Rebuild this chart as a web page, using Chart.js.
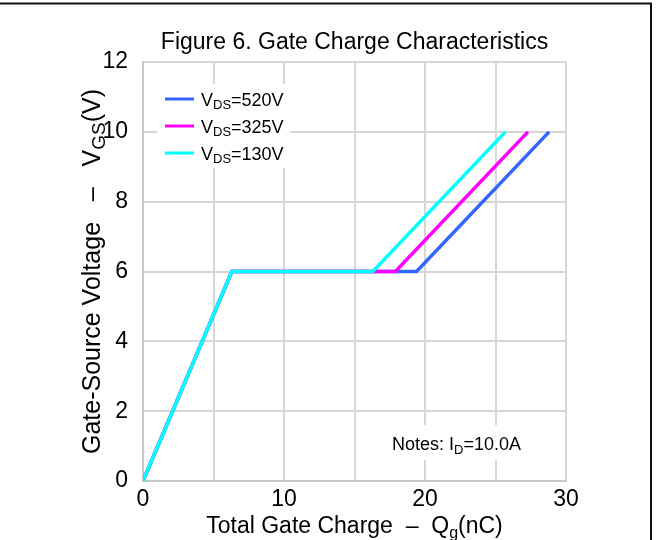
<!DOCTYPE html>
<html>
<head>
<meta charset="utf-8">
<script src="https://cdn.jsdelivr.net/npm/chart.js@4.4.1/dist/chart.umd.min.js"></script>
<style>
  body { margin: 0; background: #fff; }
  #wrap { width: 656px; height: 540px; }
</style>
</head>
<body>
<div id="wrap"><canvas id="chartGate" width="656" height="540"></canvas></div>
<script>
// Gate charge curves (Qg in nC, Vgs in V)
const vgs = [0, 6, 6, 10];
const qg520 = [0, 6.3, 19.4, 28.8];
const qg325 = [0, 6.3, 17.9, 27.3];
const qg130 = [0, 6.3, 16.3, 25.7];
const serieNames = ["520V", "325V", "130V"];
const serieColors = ["#3366ff", "#ff00ff", "#00ffff"];
const xTicks = [0, 10, 20, 30];

const FONT = "'Liberation Sans', Arial, sans-serif";

function pontos(qg) {
  return qg.map((q, i) => ({ x: q, y: vgs[i] }));
}

// texto com subscrito: partes = [[texto, sub?], ...]
function textoSub(ctx, partes, x, y, size, align, escala) {
  const subSize = Math.round(size * (escala || 0.7));
  let total = 0;
  partes.forEach(([t, sub]) => {
    ctx.font = (sub ? subSize : size) + "px " + FONT;
    total += ctx.measureText(t).width;
  });
  let cx = align === "center" ? x - total / 2 : x;
  ctx.textAlign = "left";
  ctx.textBaseline = "alphabetic";
  partes.forEach(([t, sub]) => {
    ctx.font = (sub ? subSize : size) + "px " + FONT;
    ctx.fillText(t, cx, sub ? y + size * 0.2 : y);
    cx += ctx.measureText(t).width;
  });
}

const extras = {
  id: "extras",
  afterDraw(chart) {
    const ctx = chart.ctx;
    const area = chart.chartArea;
    ctx.save();
    ctx.fillStyle = "#000";

    // moldura da figura
    ctx.strokeStyle = "#111";
    ctx.lineWidth = 2;
    ctx.beginPath();
    ctx.moveTo(0, 3.5);
    ctx.lineTo(652, 3.5);
    ctx.moveTo(651, 3.5);
    ctx.lineTo(651, 540);
    ctx.stroke();

    // titulo
    textoSub(ctx, [["Figure 6. Gate Charge Characteristics"]], (area.left + area.right) / 2, 49, 23, "center");

    // titulo eixo x
    textoSub(ctx, [["Total Gate Charge  \u2013  Q"], ["g", true], ["(nC)"]], (area.left + area.right) / 2, 533, 23, "center");

    // titulo eixo y
    ctx.save();
    ctx.translate(100, (area.top + area.bottom) / 2);
    ctx.rotate(-Math.PI / 2);
    textoSub(ctx, [["Gate-Source Voltage   \u2013   V"], ["GS", true], ["(V)"]], 0, 0, 25, "center", 0.75);
    ctx.restore();

    // legenda
    ctx.fillStyle = "#fff";
    ctx.fillRect(157, 84, 133, 84);
    serieNames.forEach((nome, i) => {
      const y = 99 + i * 27;
      ctx.strokeStyle = serieColors[i];
      ctx.lineWidth = 3;
      ctx.beginPath();
      ctx.moveTo(165, y);
      ctx.lineTo(194, y);
      ctx.stroke();
      ctx.fillStyle = "#000";
      textoSub(ctx, [["V"], ["DS", true], ["=" + nome]], 201, y + 6.5, 18, "left");
    });

    // notas
    ctx.fillStyle = "#fff";
    ctx.fillRect(382, 425, 152, 35);
    ctx.fillStyle = "#000";
    textoSub(ctx, [["Notes: I"], ["D", true], ["=10.0A"]], 392, 450, 18, "left");

    ctx.restore();
  },
};

const gate = document.getElementById("chartGate");

new Chart(gate, {
  type: "line",
  data: {
    datasets: [
      { label: "VDS=" + serieNames[0], data: pontos(qg520), borderColor: serieColors[0], order: 3 },
      { label: "VDS=" + serieNames[1], data: pontos(qg325), borderColor: serieColors[1], order: 2 },
      { label: "VDS=" + serieNames[2], data: pontos(qg130), borderColor: serieColors[2], order: 1 },
    ].map((d) => Object.assign(d, {
      borderWidth: 3.5,
      pointRadius: 0,
      tension: 0,
      fill: false,
      borderJoinStyle: "miter",
    })),
  },
  options: {
    responsive: false,
    animation: false,
    layout: { padding: { left: 0, top: 62, right: 90, bottom: 0 } },
    plugins: {
      legend: { display: false },
      title: { display: false },
      tooltip: { enabled: false },
    },
    scales: {
      x: {
        type: "linear",
        min: 0,
        max: 30,
        afterFit: (s) => { s.height = 59; },
        grid: { color: "#d6d6d6", lineWidth: 2, drawTicks: false },
        border: { color: "#c8c8c8", width: 2 },
        ticks: {
          stepSize: 5,
          padding: 5,
          color: "#000",
          font: { family: FONT, size: 23 },
          callback: (v) => (xTicks.includes(v) ? String(v) : ""),
        },
      },
      y: {
        min: 0,
        max: 12,
        afterFit: (s) => { s.width = 143; },
        grid: { color: "#d6d6d6", lineWidth: 2, drawTicks: false },
        border: { color: "#c8c8c8", width: 2 },
        ticks: {
          stepSize: 2,
          padding: 15,
          color: "#000",
          font: { family: FONT, size: 23 },
        },
      },
    },
  },
  plugins: [extras],
});
</script>
</body>
</html>
